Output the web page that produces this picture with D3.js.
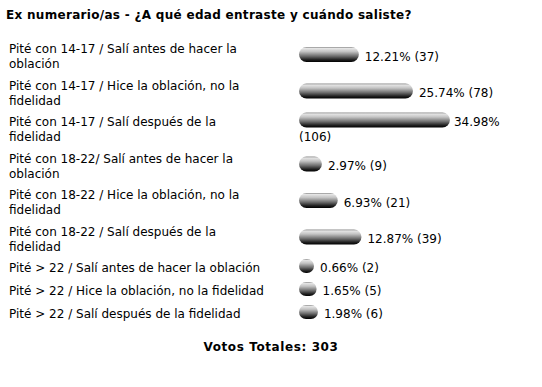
<!DOCTYPE html>
<html>
<head>
<meta charset="utf-8">
<script src="https://cdn.jsdelivr.net/npm/d3@7"></script>
<style>
  html, body { margin: 0; padding: 0; background: #fff; }
  svg { display: block; font-family: "DejaVu Sans", Verdana, sans-serif; }
</style>
</head>
<body>
<svg id="poll" width="542" height="387"></svg>
<script>
// ---------------------------------------------------------------
// Poll data
// ---------------------------------------------------------------
const title = "Ex numerario/as - ¿A qué edad entraste y cuándo saliste?";
const labelLines = [
  ["Pité con 14-17 / Salí antes de hacer la", "oblación"],
  ["Pité con 14-17 / Hice la oblación, no la", "fidelidad"],
  ["Pité con 14-17 / Salí después de la", "fidelidad"],
  ["Pité con 18-22/ Salí antes de hacer la", "oblación"],
  ["Pité con 18-22 / Hice la oblación, no la", "fidelidad"],
  ["Pité con 18-22 / Salí después de la", "fidelidad"],
  ["Pité > 22 / Salí antes de hacer la oblación"],
  ["Pité > 22 / Hice la oblación, no la fidelidad"],
  ["Pité > 22 / Salí después de la fidelidad"]
];
const percents = [12.21, 25.74, 34.98, 2.97, 6.93, 12.87, 0.66, 1.65, 1.98];
const votes = [37, 78, 106, 9, 21, 39, 2, 5, 6];
const footer = "Votos Totales: 303";

// ---------------------------------------------------------------
// Layout
// ---------------------------------------------------------------
const svg = d3.select("#poll");
const fs = "12px";
const lineH = 15;
const barX = 299, barH = 15, capW = 11;
const cellRight = 520;

// bar length scale (percent -> px), caps are added on top
const x = d3.scaleLinear().domain([0, 100]).range([0, 400]);

// gradient for the pill bars
const defs = svg.append("defs");
const grad = defs.append("linearGradient")
  .attr("id", "barGrad").attr("x1", 0).attr("y1", 0).attr("x2", 0).attr("y2", 1);
[[0, "#8c8c8c"], [0.1, "#e4e4e4"], [0.3, "#c4c4c4"], [0.6, "#707070"], [0.85, "#202020"], [1, "#000"]]
  .forEach(([o, c]) => grad.append("stop").attr("offset", o).attr("stop-color", c));

// title
svg.append("text")
  .attr("x", 6).attr("y", 19)
  .attr("font-size", fs).attr("font-weight", "bold")
  .attr("letter-spacing", "0.3px")
  .text(title);

// row positions: first label baseline per row
let y0 = 53;
const rows = labelLines.map((lines, i) => {
  const r = { i, lines, base: y0 };
  y0 += lines.length === 2 ? 36.5 : 23;
  return r;
});

const g = svg.append("g");

rows.forEach(r => {
  const pct = percents[r.i];
  const mid = r.base - 4 + (r.lines.length - 1) * lineH / 2;

  // label
  const lbl = g.append("text").attr("x", 9).attr("font-size", fs).attr("fill", "#000");
  r.lines.forEach((ln, k) => {
    lbl.append("tspan").attr("x", 9).attr("y", r.base + k * lineH).text(ln);
  });

  // value text: measure to see whether it needs to wrap
  const w = Math.max(x(pct) + capW, 15);
  const valTxt = `${pct.toFixed(2)}% (${votes[r.i]})`;
  const probe = g.append("text").attr("font-size", fs).text(valTxt);
  const tw = probe.node().getComputedTextLength();
  probe.remove();
  const wrap = barX + w + 6 + tw > cellRight;

  const barMid = wrap ? mid - lineH / 2 - 2 : mid - 2;
  const h = w < 20 ? 14 : barH;
  g.append("rect")
    .attr("x", barX).attr("y", barMid - h / 2)
    .attr("width", w).attr("height", h)
    .attr("rx", h / 2).attr("ry", h / 2)
    .attr("fill", "url(#barGrad)");

  const val = g.append("text").attr("font-size", fs).attr("fill", "#000");
  if (wrap) {
    val.append("tspan").attr("x", barX + w + 4).attr("y", mid - lineH / 2 + 4)
      .text(`${pct.toFixed(2)}%`);
    val.append("tspan").attr("x", barX).attr("y", mid + lineH / 2 + 4)
      .text(`(${votes[r.i]})`);
  } else {
    val.attr("x", barX + w + 6).attr("y", mid + 4).text(valTxt);
  }
});

// total votes
svg.append("text")
  .attr("x", 271).attr("y", 351)
  .attr("text-anchor", "middle")
  .attr("font-size", fs).attr("font-weight", "bold")
  .attr("letter-spacing", "0.6px")
  .text(footer);
</script>
</body>
</html>
